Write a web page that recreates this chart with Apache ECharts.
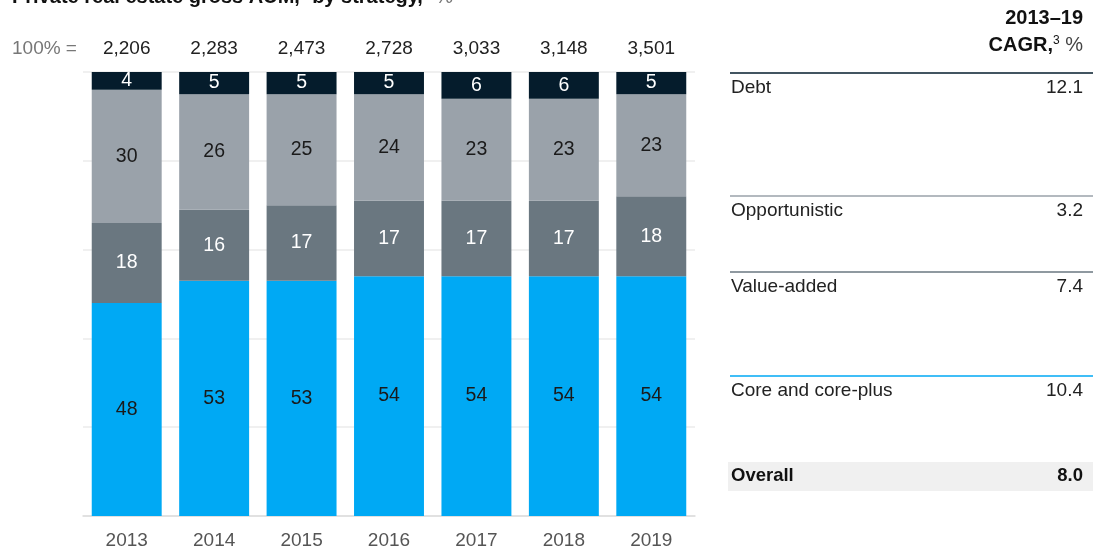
<!DOCTYPE html>
<html>
<head>
<meta charset="utf-8">
<script src="https://cdn.jsdelivr.net/npm/echarts@6/dist/echarts.min.js"></script>
<style>
html,body{margin:0;padding:0;background:#fff;}
#c{width:1101px;height:550px;}
</style>
</head>
<body>
<div id="c"></div>
<script>
const years = ['2013','2014','2015','2016','2017','2018','2019'];
const totals = ['2,206','2,283','2,473','2,728','3,033','3,148','3,501'];
const core = [48,53,53,54,54,54,54];
const valueAdded = [18,16,17,17,17,17,18];
const opportunistic = [30,26,25,24,23,23,23];
const debt = [4,5,5,5,6,6,5];
const strategies = ['Debt','Opportunistic','Value-added','Core and core-plus'];
const cagr = ['12.1','3.2','7.4','10.4'];
const overallCagr = '8.0';

const FONT = '"Liberation Sans", Arial, sans-serif';
const C_DEBT = '#051c2c', C_OPP = '#9aa2aa', C_VA = '#6a7780', C_CORE = '#00a9f4';

const chart = echarts.init(document.getElementById('c'));

function bar(name, data, color, labelColor) {
  return {
    name, type: 'bar', stack: 'a', data,
    barCategoryGap: '20%',
    itemStyle: { color },
    label: { show: true, position: 'inside', color: labelColor, fontSize: 19.5, fontFamily: FONT },
    emphasis: { disabled: true }
  };
}

const rowY = [73, 196, 272, 376];
const rowLineColors = [C_DEBT, C_OPP, C_VA, C_CORE];
const graphics = [];
graphics.push({
  type: 'text', left: 12, top: -13,
  style: {
    text: '{b|Private real estate gross AUM,}{s|1}{b| by strategy,}{s|2}{r| %}',
    rich: {
      b: { fontSize: 20, fontWeight: 'bold', fill: '#111', fontFamily: FONT },
      s: { fontSize: 12, fill: '#111', fontFamily: FONT, verticalAlign: 'top' },
      r: { fontSize: 20, fill: '#777', fontFamily: FONT }
    }
  }
});
graphics.push({
  type: 'text', x: 12, y: 49,
  style: { text: '100% =', fontSize: 19, fill: '#777', fontFamily: FONT, verticalAlign: 'middle', textVerticalAlign: 'middle' }
});
graphics.push({
  type: 'text', x: 1083, y: 18,
  style: { text: '2013–19', fontSize: 20, fontWeight: 'bold', fill: '#111', fontFamily: FONT, align: 'right', textAlign: 'right', verticalAlign: 'middle', textVerticalAlign: 'middle' }
});
graphics.push({
  type: 'text', x: 1083, y: 45,
  style: {
    text: '{b|CAGR,}{s|3}{r| %}', align: 'right', textAlign: 'right', verticalAlign: 'middle', textVerticalAlign: 'middle',
    rich: {
      b: { fontSize: 20, fontWeight: 'bold', fill: '#111', fontFamily: FONT },
      s: { fontSize: 12, fill: '#111', fontFamily: FONT, verticalAlign: 'top' },
      r: { fontSize: 20, fill: '#444', fontFamily: FONT }
    }
  }
});
strategies.forEach((s, i) => {
  graphics.push({ type: 'line', shape: { x1: 730, y1: rowY[i], x2: 1093, y2: rowY[i] }, style: { stroke: rowLineColors[i], lineWidth: 1.5 } });
  graphics.push({ type: 'text', x: 731, y: rowY[i] + 15,
    style: { text: s, fontSize: 19, fill: '#222', fontFamily: FONT, verticalAlign: 'middle', textVerticalAlign: 'middle' } });
  graphics.push({ type: 'text', x: 1083, y: rowY[i] + 15,
    style: { text: cagr[i], fontSize: 19, fill: '#222', fontFamily: FONT, align: 'right', textAlign: 'right', verticalAlign: 'middle', textVerticalAlign: 'middle' } });
});
graphics.push({ type: 'rect', shape: { x: 728, y: 462, width: 365, height: 29 }, style: { fill: '#f0f0f0' }, z: -1 });
graphics.push({ type: 'text', x: 731, y: 476,
  style: { text: 'Overall', fontSize: 18.5, fontWeight: 'bold', fill: '#111', fontFamily: FONT, verticalAlign: 'middle', textVerticalAlign: 'middle' } });
graphics.push({ type: 'text', x: 1083, y: 476,
  style: { text: overallCagr, fontSize: 18.5, fontWeight: 'bold', fill: '#111', fontFamily: FONT, align: 'right', textAlign: 'right', verticalAlign: 'middle', textVerticalAlign: 'middle' } });

chart.setOption({
  animation: false,
  grid: { left: 83, right: 406, top: 72, bottom: 34, containLabel: false },
  xAxis: [
    {
      type: 'category', data: years, position: 'bottom',
      axisLine: { lineStyle: { color: '#dcdcdc', width: 1.5 } },
      axisTick: { show: false },
      axisLabel: { color: '#555', fontSize: 19, fontFamily: FONT, margin: 15 }
    },
    {
      type: 'category', data: years, position: 'top',
      axisLine: { show: false }, axisTick: { show: false },
      axisLabel: { color: '#222', fontSize: 19, fontFamily: FONT, margin: 14,
        formatter: (v, i) => totals[i] }
    }
  ],
  yAxis: {
    type: 'value', min: 0, max: 100, interval: 20,
    axisLabel: { show: false }, axisLine: { show: false }, axisTick: { show: false },
    splitLine: { lineStyle: { color: '#ebebeb', width: 1.5 } }
  },
  series: [
    bar('Core and core-plus', core, C_CORE, '#1a1a1a'),
    bar('Value-added', valueAdded, C_VA, '#ffffff'),
    bar('Opportunistic', opportunistic, C_OPP, '#1a1a1a'),
    bar('Debt', debt, C_DEBT, '#ffffff')
  ],
  graphic: graphics
});
</script>
</body>
</html>
